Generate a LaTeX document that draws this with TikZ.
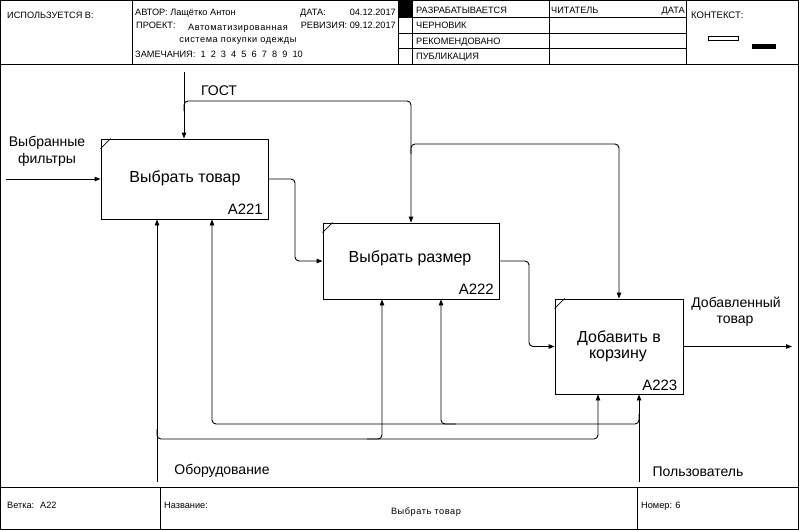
\documentclass[tikz,border=0pt]{standalone}
\usepackage{fontspec}
\setmainfont{Liberation Sans}
\newfontfamily\spacedfont[LetterSpace=6]{Liberation Sans}
\usetikzlibrary{arrows.meta}
\newcommand\hdrsize{\fontsize{9.2}{10}\selectfont}
\newcommand\lblsize{\fontsize{14}{17}\selectfont}
\newcommand\actsize{\fontsize{16}{17}\selectfont}
\newcommand\numsize{\fontsize{15}{17}\selectfont}

\begin{document}
\begin{tikzpicture}[x=1pt,y=-1pt,
  rule/.style={line width=0.8pt},
  actbox/.style={draw, line width=0.9pt, inner sep=0, minimum width=#1},
  wire/.style={line width=0.9pt, rounded corners=4pt},
  arr/.style={wire, -{Triangle[length=6pt,width=4.5pt]}},
  hdr/.style={font=\hdrsize, inner sep=0, anchor=base west},
  lbl/.style={font=\lblsize, inner sep=0, anchor=base},
  acttxt/.style={font=\actsize, inner sep=0, anchor=base},
  actnum/.style={font=\numsize, inner sep=0, anchor=base east}]

\useasboundingbox (0,0) rectangle (799,530);

% ---------- form frame ----------
\draw[rule] (0.5,0.5) rectangle (798.5,529.5);
\draw[rule] (0,64) -- (799,64);
\draw[rule] (0,487) -- (799,487);
\foreach \x in {132,398,412,549,686} \draw[rule] (\x,0) -- (\x,64);
\foreach \y in {17,33,48} \draw[rule] (398,\y) -- (686,\y);
\fill (398,0) rectangle (412,17);
\draw[rule] (160,487) -- (160,530);
\draw[rule] (637,487) -- (637,530);

% ---------- header ----------
\node[hdr] (used) at (7,18) {ИСПОЛЬЗУЕТСЯ В:};
\node[hdr] (author) at (135,15) {АВТОР: Лащётко Антон};
\node[hdr] (datek) at (300,15) {ДАТА:};
\node[hdr, anchor=base east] (datev) at (396,15) {04.12.2017};
\node[hdr] (proj) at (136,28.5) {ПРОЕКТ:};
\node[hdr, anchor=base] (proj1) at (238,30) {\spacedfont Автоматизированная};
\node[hdr, anchor=base] (proj2) at (238,42) {\spacedfont система покупки одежды};
\node[hdr, anchor=base east] (rev) at (396,28.5) {РЕВИЗИЯ: 09.12.2017};
\node[hdr] (notes) at (135,57) {ЗАМЕЧАНИЯ: \ 1 \ 2 \ 3 \ 4 \ 5 \ 6 \ 7 \ 8 \ 9 \ 10};
\node[hdr] (st1) at (416,13) {РАЗРАБАТЫВАЕТСЯ};
\node[hdr] (st2) at (416,28.5) {ЧЕРНОВИК};
\node[hdr] (st3) at (416,44) {РЕКОМЕНДОВАНО};
\node[hdr] (st4) at (416,59.5) {ПУБЛИКАЦИЯ};
\node[hdr] (reader) at (551,13) {ЧИТАТЕЛЬ};
\node[hdr, anchor=base east] (rdate) at (685,13) {ДАТА};
\node[hdr, font=\fontsize{9.5}{11}\selectfont] (ctx) at (691,18.5) {КОНТЕКСТ:};
\draw[rule] (708,36) rectangle (738,40);
\fill (752,44) rectangle (776,49);

% ---------- footer ----------
\node[hdr] (node) at (7,508) {Ветка: \ A22};
\node[hdr] (titlek) at (164,508) {Название:};
\node[hdr, anchor=base] (titlev) at (426,514) {\spacedfont Выбрать товар};
\node[hdr] (num) at (641,508) {Номер: 6};

% ---------- activities ----------
\node[actbox=167pt, minimum height=80pt] (a221) at (184.5,179) {};
\node[actbox=176pt, minimum height=76pt] (a222) at (411,261) {};
\node[actbox=128pt, minimum height=95pt] (a223) at (619,346.5) {};
\foreach \b in {a221,a222,a223}
  \draw[line width=0.8pt] ([shift={(0,10)}]\b.north west) -- ([shift={(10,0)}]\b.north west);

\node[acttxt] (t221) at (185,182.5) {Выбрать товар};
\node[actnum] (n221) at (263,214.5) {A221};
\node[acttxt] (t222) at (410,262.5) {Выбрать размер};
\node[actnum] (n222) at (494,294.5) {A222};
\node[acttxt] (t223a) at (619,342) {Добавить в};
\node[acttxt] (t223b) at (618,358.5) {корзину};
\node[actnum] (n223) at (677.5,390) {A223};

% ---------- route points ----------
\coordinate (inSrc) at (6,179);
\coordinate (gostSrc) at (184,72);
\coordinate (g1) at (184,101);
\coordinate (g2) at (411,101);
\coordinate (g3) at (411,144);
\coordinate (g4) at (619,144);
\coordinate (outDst) at (792,346.5);
\coordinate (eqSrc) at (157,482);
\coordinate (eqJ) at (157,439);
\coordinate (eqM) at (382,439);
\coordinate (eqR) at (598,439);
\coordinate (usrSrc) at (639,482);
\coordinate (usrJ) at (639,424);
\coordinate (usrM) at (441,424);
\coordinate (usrL) at (212,424);

% ---------- inputs and outputs ----------
\draw[arr] (inSrc) -- (a221.west);
\draw[arr] (a221.east) -- (295,179) -- (295,261) -- (a222.west);
\draw[arr] (a222.east) -- (529,261) -- (529,346.5) -- (a223.west);
\draw[arr] (a223.east) -- (outDst);

% ---------- controls ----------
\draw[arr] (gostSrc) -- (gostSrc |- a221.north);
\draw[arr] ([yshift=-10]g1) -- (g1) -- (g2) -- (g2 |- a222.north);
\draw[arr] ([yshift=-10]g3) -- (g3) -- (g4) -- (g4 |- a223.north);

% ---------- mechanisms ----------
\draw[arr] (eqSrc) -- (eqSrc |- a221.south);
\draw[arr] ([yshift=10]eqJ) -- (eqJ) -- (eqR) -- (eqR |- a223.south);
\draw[arr] ([xshift=-15]eqM) -- (eqM) -- (eqM |- a222.south);
\draw[arr] (usrSrc) -- (usrSrc |- a223.south);
\draw[arr] ([yshift=10]usrJ) -- (usrJ) -- (usrL) -- (usrL |- a221.south);
\draw[arr] ([xshift=15]usrM) -- (usrM) -- (usrM |- a222.south);

% ---------- arrow labels ----------
\node[lbl] (lin1) at (47,146) {Выбранные};
\node[lbl] (lin2) at (47,163) {фильтры};
\node[lbl] (lgost) at (219,95) {ГОСТ};
\node[lbl] (lout1) at (736,307) {Добавленный};
\node[lbl] (lout2) at (735,323) {товар};
\node[lbl] (leq) at (222,474) {Оборудование};
\node[lbl] (lusr) at (698,476) {Пользователь};

\end{tikzpicture}
\end{document}
